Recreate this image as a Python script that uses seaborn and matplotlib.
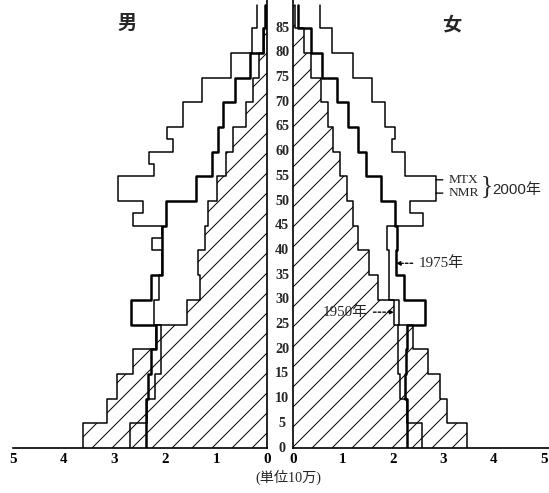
import matplotlib
matplotlib.use("Agg")
import matplotlib.pyplot as plt
import seaborn as sns

sns.set_theme(style="white")
plt.rcParams["font.family"] = ["Liberation Serif", "Noto Sans CJK JP"]
plt.rcParams["hatch.linewidth"] = 0.6
plt.rcParams["hatch.color"] = "black"

# Five-year age groups (lower bound); the last group is 85 and over.
age_groups = [0, 5, 10, 15, 20, 25, 30, 35, 40, 45, 50, 55, 60, 65, 70, 75, 80, 85]
top_age = 89.7
age_labels = [0, 5, 10, 15, 20, 25, 30, 35, 40, 45, 50, 55, 60, 65, 70, 75, 80, 85]
x_ticks = [0, 1, 2, 3, 4, 5]

# Population in units of 100,000
male_1950 = [3.62, 3.14, 2.96, 2.64, 2.19, 1.58, 1.31, 1.35, 1.22, 1.16, 0.99,
             0.81, 0.67, 0.41, 0.28, 0.15, 0.06, 0.02]
female_1950 = [3.48, 3.07, 2.93, 2.70, 2.40, 2.02, 1.70, 1.52, 1.31, 1.21, 1.08,
               0.94, 0.81, 0.70, 0.57, 0.36, 0.22, 0.05]

male_1975 = [2.39, 2.38, 2.35, 2.28, 2.18, 2.67, 2.28, 2.06, 2.06, 1.98, 1.39,
             1.09, 0.96, 0.86, 0.63, 0.34, 0.08, 0.03]
female_1975 = [2.27, 2.27, 2.24, 2.26, 2.27, 2.63, 2.22, 2.06, 2.08, 2.04, 1.75,
               1.47, 1.31, 1.11, 0.88, 0.58, 0.36, 0.11]

# 2000 projection (MTX / NMR) with a few half-group breaks
male_2000_ages = [0, 5, 10, 15, 20, 25, 30, 35, 40, 42.5, 45, 47.5, 50, 55, 57.5,
                  60, 62.5, 65, 70, 75, 80, 85]
male_2000 = [2.69, 2.36, 2.21, 2.08, 2.08, 2.23, 2.13, 2.07, 2.26, 2.07, 2.63, 2.44,
             2.94, 2.23, 2.33, 1.85, 1.96, 1.66, 1.28, 0.70, 0.30, 0.19]
female_2000_ages = [0, 5, 10, 15, 20, 25, 30, 35, 40, 45, 47.5, 50, 55, 60, 62.5,
                    65, 70, 75, 80, 85]
female_2000 = [2.57, 2.27, 2.13, 2.10, 2.09, 2.12, 1.92, 1.92, 1.88, 2.60, 2.34,
               2.85, 2.24, 1.97, 2.04, 1.84, 1.57, 1.21, 0.78, 0.55]


def steps(starts, values):
    """Points for a vertical step outline: value held from each start to the next."""
    return list(values) + [values[-1]], list(starts) + [top_age]


W, H, DPI = 549, 493, 120
fig = plt.figure(figsize=(W / DPI, H / DPI), dpi=DPI)
fig.patch.set_facecolor("white")
axL = fig.add_axes([13 / W, 45 / H, 254 / W, 448 / H])
axR = fig.add_axes([292.7 / W, 45 / H, 256.3 / W, 448 / H])
axL.set_xlim(5, 0)
axR.set_xlim(0, 5.106)

panels = [
    (axL, male_1950, male_1975, male_2000_ages, male_2000),
    (axR, female_1950, female_1975, female_2000_ages, female_2000),
]
for ax, v1950, v1975, a2000, v2000 in panels:
    ax.set_facecolor("white")
    ax.set_ylim(0, 90.7)
    # 1950: hatched area
    xs, ys = steps(age_groups, v1950)
    ax.fill_betweenx(ys, 0, xs, step="post", facecolor="none",
                     edgecolor="black", hatch="//", linewidth=0)
    sns.lineplot(x=xs, y=ys, sort=False, estimator=None, drawstyle="steps-pre",
                 color="black", lw=0.9, ax=ax)
    # 1975: heavy outline
    xs, ys = steps(age_groups, v1975)
    sns.lineplot(x=xs, y=ys, sort=False, estimator=None, drawstyle="steps-pre",
                 color="black", lw=1.5, ax=ax)
    # 2000: light outline
    xs, ys = steps(a2000, v2000)
    sns.lineplot(x=xs, y=ys, sort=False, estimator=None, drawstyle="steps-pre",
                 color="black", lw=0.9, ax=ax)

    ax.set_xticks(x_ticks)
    ax.set_xticklabels([str(t) for t in x_ticks], fontsize=9, fontweight="bold")
    ax.set_yticks([])
    ax.set_xlabel("")
    ax.set_ylabel("")
    ax.grid(False)
    ax.tick_params(axis="x", direction="in", length=2, width=0.8, pad=3,
                   colors="black")
    for s in ax.spines.values():
        s.set_color("black")
        s.set_linewidth(1.0)

sns.despine(ax=axL, top=True, left=True, right=False, bottom=False)
sns.despine(ax=axR, top=True, right=True, left=False, bottom=False)

# Age labels in the centre strip
for a in age_labels:
    axR.text(-0.21, a, str(a), ha="center", va="center", fontsize=8.5,
             fontweight="bold", clip_on=False)

# Panel titles and unit
fig.text(127 / W, 1 - 23 / H, "男", ha="center", va="center", fontsize=11.5,
         family="Noto Sans CJK JP", fontweight="bold")
fig.text(452 / W, 1 - 25 / H, "女", ha="center", va="center", fontsize=11.5,
         family="Noto Sans CJK JP", fontweight="bold")
fig.text(288 / W, 1 - 477 / H, "(単位10万)", ha="center", va="center",
         fontsize=8.5, family=["Liberation Serif", "Noto Sans CJK JP"])

# Series annotations
solid = dict(arrowstyle="-", lw=0.8, color="black", shrinkA=1, shrinkB=0)
axR.annotate("MTX", xy=(2.85, 54.3), xytext=(3.10, 54.3), ha="left", va="center",
             fontsize=8, arrowprops=solid)
axR.annotate("NMR", xy=(2.85, 51.6), xytext=(3.10, 51.6), ha="left", va="center",
             fontsize=8, arrowprops=solid)
axR.text(3.87, 53.0, "}", ha="center", va="center", fontsize=15,
         family="Liberation Serif")
axR.text(3.97, 52.3, "2000年", ha="left", va="center", fontsize=9,
         family=["Liberation Sans", "Noto Sans CJK JP"])

dashed = dict(arrowstyle="-|>", lw=0.8, color="black", linestyle=(0, (2, 1.5)),
              mutation_scale=5, shrinkA=1, shrinkB=0)
axR.annotate("1975年", xy=(2.06, 37.4), xytext=(2.50, 37.4), ha="left",
             va="center", fontsize=9, arrowprops=dashed)
axR.annotate("1950年", xy=(2.02, 27.5), xytext=(1.50, 27.5), ha="right",
             va="center", fontsize=9, arrowprops=dashed)

fig.savefig("out.png", dpi=DPI, facecolor="white")
